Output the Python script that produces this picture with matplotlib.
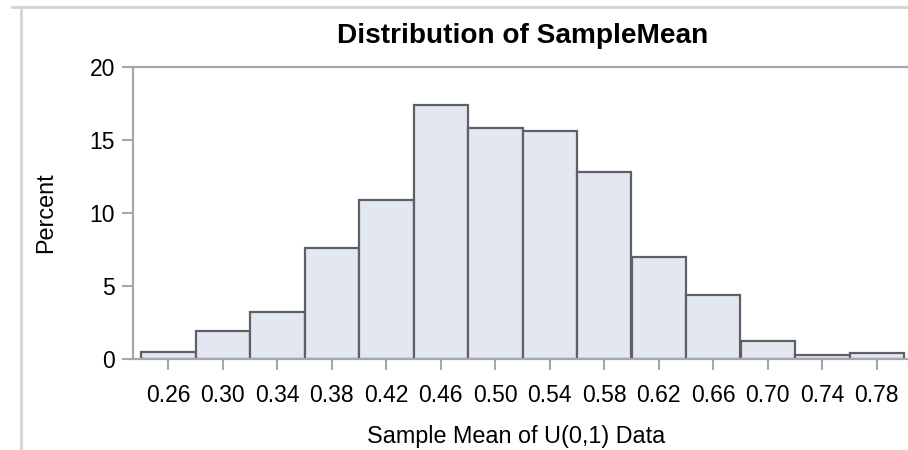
import matplotlib
matplotlib.use("Agg")
import matplotlib.pyplot as plt
from matplotlib.lines import Line2D

# ---- data ----
bin_centers = [0.26, 0.30, 0.34, 0.38, 0.42, 0.46, 0.50, 0.54, 0.58, 0.62, 0.66, 0.70, 0.74, 0.78]
percents = [0.5, 1.9, 3.2, 7.6, 10.9, 17.4, 15.8, 15.6, 12.8, 7.0, 4.35, 1.2, 0.25, 0.4]
xtick_labels = ["0.26", "0.30", "0.34", "0.38", "0.42", "0.46", "0.50",
                "0.54", "0.58", "0.62", "0.66", "0.70", "0.74", "0.78"]
yticks = [0, 5, 10, 15, 20]
bin_width = 0.04

title = "Distribution of SampleMean"
xlabel = "Sample Mean of U(0,1) Data"
ylabel = "Percent"

plt.rcParams['font.family'] = ['Liberation Sans', 'DejaVu Sans']

W, H = 908, 450
fig = plt.figure(figsize=(W / 100, H / 100), dpi=100)
fig.patch.set_facecolor('white')

# axes placement (pixels)
left_px, right_px, top_px, bottom_px = 133, 910, 67, 359
ax = fig.add_axes([left_px / W, 1 - bottom_px / H,
                   (right_px - left_px) / W, (bottom_px - top_px) / H])

fill = '#E3E7F0'
edge = '#5E6066'
axis_col = '#A4A7AC'

ax.bar(bin_centers, percents, width=bin_width, color=fill,
       edgecolor=edge, linewidth=1.6, align='center')

x_lo = 0.24 - 8 / 54.5 * bin_width
x_hi = x_lo + (right_px - left_px) / 54.5 * bin_width
ax.set_xlim(x_lo, x_hi)
ax.set_ylim(0, 20)

ax.set_xticks(bin_centers)
ax.set_xticklabels(xtick_labels)
ax.set_yticks(yticks)
ax.set_yticklabels([str(v) for v in yticks])

for s in ['left', 'top', 'bottom']:
    ax.spines[s].set_color(axis_col)
    ax.spines[s].set_linewidth(1.6)
ax.spines['right'].set_visible(False)

ax.tick_params(axis='both', direction='out', color=axis_col, width=1.5,
               labelsize=16.5, labelcolor='black')
ax.tick_params(axis='x', length=8, pad=10)
ax.tick_params(axis='y', length=8, pad=5)

fig.text(46 / W, 1 - 213 / H, ylabel, rotation=90, ha='center', va='center',
         fontsize=16.8)
fig.text(516.5 / W, 1 - 443 / H, xlabel, ha='center', va='baseline', fontsize=16.8)
fig.text(523 / W, 1 - 43 / H, title, ha='center', va='baseline', fontsize=20.2,
         fontweight='bold')

# light gray outer frame (top and left)
frame_col = '#D4D4D4'
fig.add_artist(Line2D([12 / W, 1.0], [1 - 7 / H, 1 - 7 / H], color=frame_col,
                      lw=2, transform=fig.transFigure))
fig.add_artist(Line2D([21 / W, 21 / W], [1 - 10 / H, 0.0], color=frame_col,
                      lw=2, transform=fig.transFigure))

fig.savefig('out.png', dpi=100, facecolor='white')
